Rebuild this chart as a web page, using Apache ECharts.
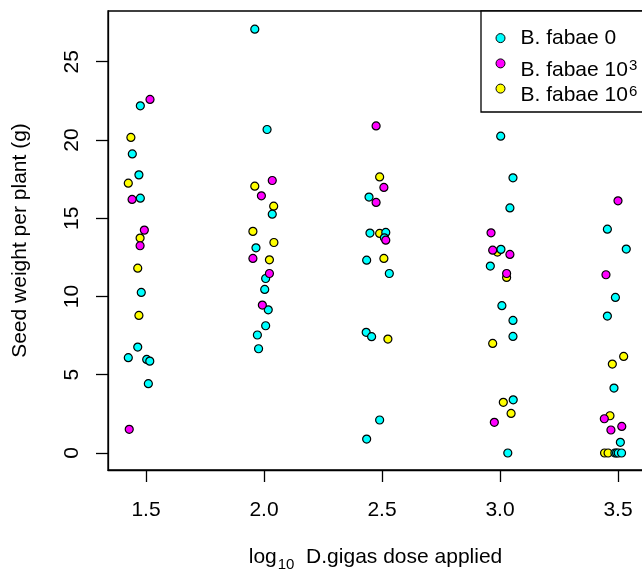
<!DOCTYPE html>
<html>
<head>
<meta charset="utf-8">
<script src="https://cdn.jsdelivr.net/npm/echarts@6/dist/echarts.min.js"></script>
<style>
html,body{margin:0;padding:0;background:#fff;}
#chart{width:642px;height:572px;}
</style>
</head>
<body>
<div id="chart"></div>
<script>
// ---- data (x = jittered log10 dose, y = seed weight per plant, g) ----
var seriesNames = ['B. fabae 0', 'B. fabae 10^3', 'B. fabae 10^6'];
var legendMain = ['B. fabae 0', 'B. fabae 10', 'B. fabae 10'];
var legendSup = ['', '3', '6'];
var seriesColors = ['#00FFFF', '#FF00FF', '#FFFF00'];
var xTicks = [1.5, 2.0, 2.5, 3.0, 3.5];
var yTicks = [0, 5, 10, 15, 20, 25];

var fabae0 = [
  [1.476,22.18],[1.442,19.11],[1.470,17.77],[1.476,16.28],[1.480,10.26],[1.465,6.77],[1.425,6.09],[1.503,5.98],[1.516,5.87],[1.510,4.43],
  [1.961,27.08],[2.013,20.67],[2.035,15.26],[1.966,13.11],[2.007,11.15],[2.003,10.45],[2.018,9.15],[2.007,8.13],[1.972,7.54],[1.977,6.66],
  [2.445,16.35],[2.449,14.05],[2.516,14.09],[2.510,13.75],[2.435,12.32],[2.531,11.47],[2.433,7.71],[2.456,7.43],[2.490,2.11],[2.435,0.89],
  [3.003,20.24],[3.055,17.58],[3.042,15.66],[3.004,13.01],[2.959,11.94],[3.008,9.41],[3.055,8.47],[3.055,7.45],[3.056,3.40],[3.033,0.00],
  [3.455,14.30],[3.535,13.03],[3.489,9.94],[3.455,8.75],[3.483,4.15],[3.510,0.68],[3.487,0.00],[3.494,0.00],[3.501,0.00],[3.515,0.00]
];
var fabae3 = [
  [1.517,22.59],[1.441,16.20],[1.493,14.24],[1.475,13.24],[1.429,1.51],
  [2.035,17.41],[1.989,16.43],[1.953,12.43],[2.023,11.47],[1.993,9.45],
  [2.475,20.90],[2.508,16.97],[2.475,16.01],[2.516,13.60],
  [2.962,14.07],[2.969,12.96],[3.042,12.69],[3.028,11.47],[2.976,1.96],
  [3.500,16.11],[3.449,11.39],[3.442,2.19],[3.516,1.70],[3.470,1.47]
];
var fabae6 = [
  [1.436,20.16],[1.425,17.24],[1.475,13.73],[1.465,11.81],[1.470,8.79],
  [1.961,17.05],[2.041,15.77],[1.953,14.16],[2.042,13.45],[2.023,12.34],
  [2.490,17.64],[2.490,14.03],[2.508,12.43],[2.525,7.28],
  [2.989,12.84],[3.028,11.22],[2.969,7.00],[3.014,3.24],[3.047,2.53],
  [3.524,6.17],[3.476,5.68],[3.466,2.38],[3.443,0.00],[3.458,0.00]
];
var seriesData = [fabae0, fabae3, fabae6];
var seriesZ = [3, 4, 2];

// ---- chart ----
var FONT = '"Liberation Sans", Arial, sans-serif';
var chart = echarts.init(document.getElementById('chart'), null, {renderer: 'canvas'});

var series = seriesNames.map(function (n, i) {
  return {
    name: n,
    type: 'scatter',
    data: seriesData[i],
    symbol: 'circle',
    symbolSize: 8,
    z: seriesZ[i],
    clip: false,
    itemStyle: {color: seriesColors[i], borderColor: '#000', borderWidth: 1.2, opacity: 1},
    emphasis: {disabled: true}
  };
});

var legendTops = [27.6, 58.4, 83.6];
var legends = seriesNames.map(function (n, i) {
  return {
    data: [n],
    orient: 'vertical',
    left: 495.5,
    top: legendTops[i],
    padding: 0,
    itemWidth: 30,
    itemHeight: 9,
    selectedMode: false,
    itemStyle: {borderColor: '#000', borderWidth: 1},
    formatter: function (name) {
      var k = seriesNames.indexOf(name);
      if (!legendSup[k]) return '{n0|' + legendMain[k] + '}';
      return '{n|' + legendMain[k] + '}{s|' + legendSup[k] + '}';
    },
    textStyle: {
      fontFamily: FONT, fontSize: 21, color: '#000',
      rich: {
        n0: {fontFamily: FONT, fontSize: 21, color: '#000', lineHeight: 24, verticalAlign: 'middle'},
        n: {fontFamily: FONT, fontSize: 21, color: '#000', lineHeight: 34, verticalAlign: 'bottom'},
        s: {fontFamily: FONT, fontSize: 15, color: '#000', verticalAlign: 'bottom', padding: [0, 0, 6.7, 1]}
      }
    }
  };
});

var option = {
  animation: false,
  backgroundColor: '#fff',
  graphic: [{
    type: 'rect', z: 1,
    shape: {x: 481, y: 11, width: 250, height: 101},
    style: {fill: '#fff', stroke: '#000', lineWidth: 1.3}
  }],
  legend: legends,
  grid: {
    left: 108, top: 11, width: 548, height: 459,
    outerBoundsMode: 'none',
    containLabel: false,
    show: true, borderColor: '#000', borderWidth: 1.3, backgroundColor: 'transparent'
  },
  xAxis: {
    type: 'value', min: 1.339, max: 3.661,
    splitLine: {show: false},
    axisLine: {show: true, onZero: false, lineStyle: {color: '#000', width: 1.3}},
    axisTick: {show: true, inside: false, length: 12, customValues: xTicks, lineStyle: {color: '#000', width: 1.3}},
    axisLabel: {
      customValues: xTicks, margin: 30, color: '#000', fontFamily: FONT, fontSize: 21,
      formatter: function (v) { return v.toFixed(1); }
    },
    name: '{a|log}{b|10}{a|  D.gigas dose applied}',
    nameLocation: 'middle',
    nameGap: 77,
    nameTextStyle: {
      padding: [0, 13, 0, 0],
      rich: {
        a: {fontFamily: FONT, fontSize: 21, color: '#000', verticalAlign: 'top'},
        b: {fontFamily: FONT, fontSize: 15, color: '#000', verticalAlign: 'top', padding: [10.7, 0, 0, 1]}
      }
    }
  },
  yAxis: {
    type: 'value', min: -1.086, max: 28.24,
    splitLine: {show: false},
    axisLine: {show: true, onZero: false, lineStyle: {color: '#000', width: 1.3}},
    axisTick: {show: true, inside: false, length: 12, customValues: yTicks, lineStyle: {color: '#000', width: 1.3}},
    axisLabel: {
      customValues: yTicks, rotate: 90, margin: 25, color: '#000', fontFamily: FONT, fontSize: 21
    },
    name: 'Seed weight per plant (g)',
    nameLocation: 'middle',
    nameGap: 77,
    nameTextStyle: {fontFamily: FONT, fontSize: 21, color: '#000'}
  },
  series: series
};
chart.setOption(option);
</script>
</body>
</html>
